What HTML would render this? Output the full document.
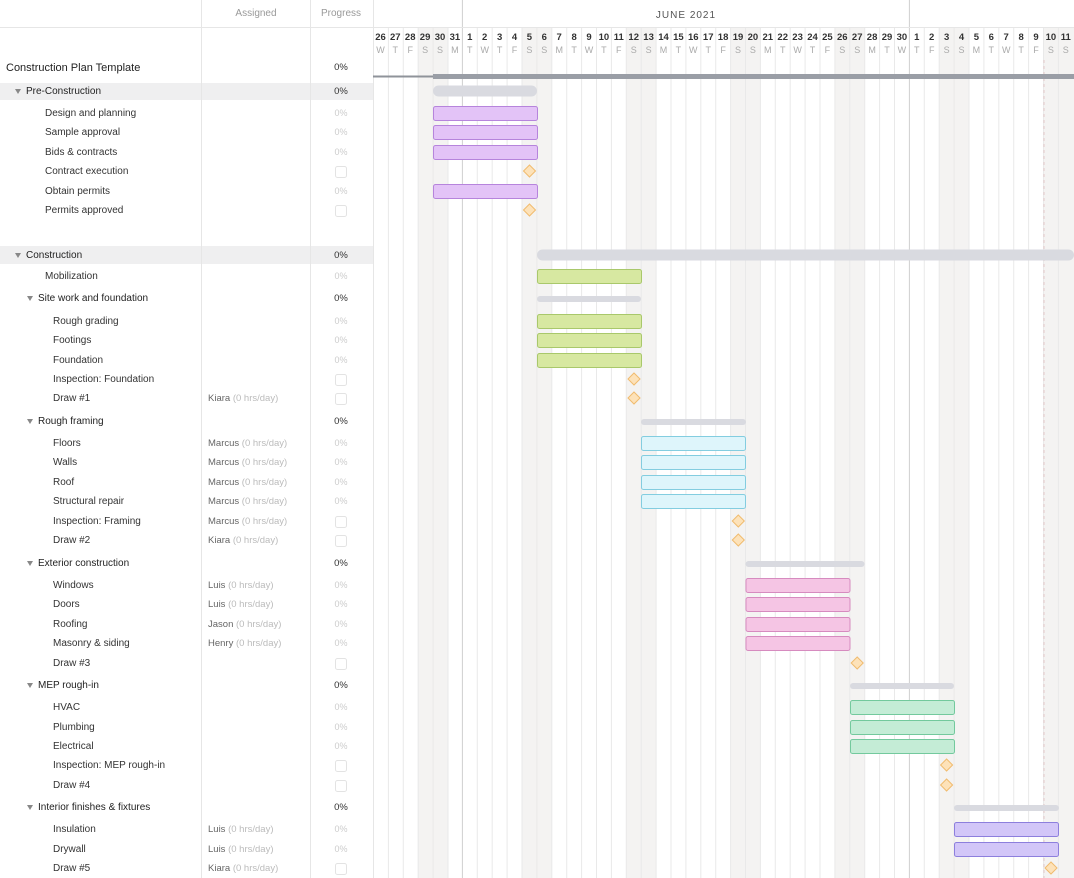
<!DOCTYPE html>
<html><head><meta charset="utf-8"><style>
html,body{margin:0;padding:0;background:#fff;}
svg{display:block;font-family:"Liberation Sans",sans-serif;}
.t{font-size:10px;fill:#333;}
.g{font-size:10px;fill:#222;}
.h{font-size:10px;fill:#999;}
.p{font-size:9px;fill:#ccc;text-anchor:middle;}
.pg{font-size:9.5px;fill:#333;text-anchor:middle;}
.a{font-size:9.5px;fill:#666;}
.a tspan{fill:#bbb;}
.dn{font-size:9.5px;fill:#333;font-weight:bold;text-anchor:middle;}
.dw{font-size:9px;fill:#aaa;text-anchor:middle;}
.tri{fill:#888;}
.pu{fill:#e3c3f7;stroke:#b684dc;}
.gr{fill:#d7e8a1;stroke:#a9c86b;}
.bl{fill:#def5fb;stroke:#83cde0;}
.pk{fill:#f5c5e4;stroke:#d68bbf;}
.mi{fill:#c4ecd6;stroke:#73c99d;}
.la{fill:#d2c6f8;stroke:#8d7fdd;}
.dm{fill:#fde2b9;stroke:#f0bb6e;}
.sm{fill:#d9dae0;}
.cb{fill:#fff;stroke:#e3e3e3;}
</style></head><body>
<svg width="1074" height="878" viewBox="0 0 1074 878" xmlns="http://www.w3.org/2000/svg">
<!-- group bands -->
<rect x="0" y="83" width="373" height="17" fill="#efeff0"/>
<rect x="0" y="246" width="373" height="18" fill="#efeff0"/>
<!-- weekend shading -->
<g fill="#f4f3f2">
<rect x="417.7" y="27" width="29.8" height="851"/>
<rect x="522" y="27" width="29.8" height="851"/>
<rect x="626.3" y="27" width="29.8" height="851"/>
<rect x="730.6" y="27" width="29.8" height="851"/>
<rect x="834.9" y="27" width="29.8" height="851"/>
<rect x="939.2" y="27" width="29.8" height="851"/>
<rect x="1043.5" y="27" width="30.5" height="851"/>
</g>
<!-- grid lines -->
<g stroke="#e9e9e9" stroke-width="1">
<line x1="388.4" y1="27" x2="388.4" y2="878"/><line x1="403.3" y1="27" x2="403.3" y2="878"/><line x1="418.2" y1="27" x2="418.2" y2="878"/><line x1="433.1" y1="27" x2="433.1" y2="878"/><line x1="448" y1="27" x2="448" y2="878"/>
<line x1="477.3" y1="27" x2="477.3" y2="878"/><line x1="492.2" y1="27" x2="492.2" y2="878"/><line x1="507.1" y1="27" x2="507.1" y2="878"/><line x1="522" y1="27" x2="522" y2="878"/><line x1="536.9" y1="27" x2="536.9" y2="878"/><line x1="551.8" y1="27" x2="551.8" y2="878"/><line x1="566.7" y1="27" x2="566.7" y2="878"/><line x1="581.6" y1="27" x2="581.6" y2="878"/><line x1="596.5" y1="27" x2="596.5" y2="878"/><line x1="611.4" y1="27" x2="611.4" y2="878"/><line x1="626.3" y1="27" x2="626.3" y2="878"/><line x1="641.2" y1="27" x2="641.2" y2="878"/><line x1="656.1" y1="27" x2="656.1" y2="878"/><line x1="671" y1="27" x2="671" y2="878"/><line x1="685.9" y1="27" x2="685.9" y2="878"/><line x1="700.8" y1="27" x2="700.8" y2="878"/><line x1="715.7" y1="27" x2="715.7" y2="878"/><line x1="730.6" y1="27" x2="730.6" y2="878"/><line x1="745.5" y1="27" x2="745.5" y2="878"/><line x1="760.4" y1="27" x2="760.4" y2="878"/><line x1="775.3" y1="27" x2="775.3" y2="878"/><line x1="790.2" y1="27" x2="790.2" y2="878"/><line x1="805.1" y1="27" x2="805.1" y2="878"/><line x1="820" y1="27" x2="820" y2="878"/><line x1="834.9" y1="27" x2="834.9" y2="878"/><line x1="849.8" y1="27" x2="849.8" y2="878"/><line x1="864.7" y1="27" x2="864.7" y2="878"/><line x1="879.6" y1="27" x2="879.6" y2="878"/><line x1="894.5" y1="27" x2="894.5" y2="878"/>
<line x1="924.3" y1="27" x2="924.3" y2="878"/><line x1="939.2" y1="27" x2="939.2" y2="878"/><line x1="954.1" y1="27" x2="954.1" y2="878"/><line x1="969" y1="27" x2="969" y2="878"/><line x1="983.9" y1="27" x2="983.9" y2="878"/><line x1="998.8" y1="27" x2="998.8" y2="878"/><line x1="1013.7" y1="27" x2="1013.7" y2="878"/><line x1="1028.6" y1="27" x2="1028.6" y2="878"/><line x1="1043.5" y1="27" x2="1043.5" y2="878"/><line x1="1058.4" y1="27" x2="1058.4" y2="878"/>
</g>
<line x1="1044" y1="60" x2="1044" y2="878" stroke="#e3c9c9" stroke-dasharray="3,3"/>
<g stroke="#cfcfcf"><line x1="462.4" y1="0" x2="462.4" y2="878"/><line x1="909.4" y1="0" x2="909.4" y2="878"/></g>
<!-- panel separators -->
<g stroke="#e6e6e6"><line x1="201.5" y1="0" x2="201.5" y2="878"/><line x1="310.5" y1="0" x2="310.5" y2="878"/><line x1="373.5" y1="0" x2="373.5" y2="878"/><line x1="0" y1="27.5" x2="1074" y2="27.5"/></g>
<!-- header -->
<text class="h" x="256" y="16" text-anchor="middle">Assigned</text>
<text class="h" x="341" y="16" text-anchor="middle">Progress</text>
<text x="686" y="18" text-anchor="middle" style="font-size:10px;fill:#555;letter-spacing:1px">JUNE 2021</text>
<g>
<text class="dn" x="380.5" y="40">26</text><text class="dn" x="395.3" y="40">27</text><text class="dn" x="410.2" y="40">28</text><text class="dn" x="425.1" y="40">29</text><text class="dn" x="440" y="40">30</text><text class="dn" x="454.9" y="40">31</text><text class="dn" x="469.8" y="40">1</text><text class="dn" x="484.7" y="40">2</text><text class="dn" x="499.6" y="40">3</text><text class="dn" x="514.5" y="40">4</text><text class="dn" x="529.4" y="40">5</text><text class="dn" x="544.3" y="40">6</text><text class="dn" x="559.2" y="40">7</text><text class="dn" x="574.1" y="40">8</text><text class="dn" x="589" y="40">9</text><text class="dn" x="603.9" y="40">10</text><text class="dn" x="618.8" y="40">11</text><text class="dn" x="633.7" y="40">12</text><text class="dn" x="648.6" y="40">13</text><text class="dn" x="663.5" y="40">14</text><text class="dn" x="678.4" y="40">15</text><text class="dn" x="693.3" y="40">16</text><text class="dn" x="708.2" y="40">17</text><text class="dn" x="723.1" y="40">18</text><text class="dn" x="738" y="40">19</text><text class="dn" x="752.9" y="40">20</text><text class="dn" x="767.8" y="40">21</text><text class="dn" x="782.7" y="40">22</text><text class="dn" x="797.6" y="40">23</text><text class="dn" x="812.5" y="40">24</text><text class="dn" x="827.4" y="40">25</text><text class="dn" x="842.3" y="40">26</text><text class="dn" x="857.2" y="40">27</text><text class="dn" x="872.1" y="40">28</text><text class="dn" x="887" y="40">29</text><text class="dn" x="901.9" y="40">30</text><text class="dn" x="916.8" y="40">1</text><text class="dn" x="931.7" y="40">2</text><text class="dn" x="946.6" y="40">3</text><text class="dn" x="961.5" y="40">4</text><text class="dn" x="976.4" y="40">5</text><text class="dn" x="991.3" y="40">6</text><text class="dn" x="1006.2" y="40">7</text><text class="dn" x="1021.1" y="40">8</text><text class="dn" x="1036" y="40">9</text><text class="dn" x="1050.9" y="40">10</text><text class="dn" x="1065.8" y="40">11</text>
<text class="dw" x="380.5" y="53">W</text><text class="dw" x="395.3" y="53">T</text><text class="dw" x="410.2" y="53">F</text><text class="dw" x="425.1" y="53">S</text><text class="dw" x="440" y="53">S</text><text class="dw" x="454.9" y="53">M</text><text class="dw" x="469.8" y="53">T</text><text class="dw" x="484.7" y="53">W</text><text class="dw" x="499.6" y="53">T</text><text class="dw" x="514.5" y="53">F</text><text class="dw" x="529.4" y="53">S</text><text class="dw" x="544.3" y="53">S</text><text class="dw" x="559.2" y="53">M</text><text class="dw" x="574.1" y="53">T</text><text class="dw" x="589" y="53">W</text><text class="dw" x="603.9" y="53">T</text><text class="dw" x="618.8" y="53">F</text><text class="dw" x="633.7" y="53">S</text><text class="dw" x="648.6" y="53">S</text><text class="dw" x="663.5" y="53">M</text><text class="dw" x="678.4" y="53">T</text><text class="dw" x="693.3" y="53">W</text><text class="dw" x="708.2" y="53">T</text><text class="dw" x="723.1" y="53">F</text><text class="dw" x="738" y="53">S</text><text class="dw" x="752.9" y="53">S</text><text class="dw" x="767.8" y="53">M</text><text class="dw" x="782.7" y="53">T</text><text class="dw" x="797.6" y="53">W</text><text class="dw" x="812.5" y="53">T</text><text class="dw" x="827.4" y="53">F</text><text class="dw" x="842.3" y="53">S</text><text class="dw" x="857.2" y="53">S</text><text class="dw" x="872.1" y="53">M</text><text class="dw" x="887" y="53">T</text><text class="dw" x="901.9" y="53">W</text><text class="dw" x="916.8" y="53">T</text><text class="dw" x="931.7" y="53">F</text><text class="dw" x="946.6" y="53">S</text><text class="dw" x="961.5" y="53">S</text><text class="dw" x="976.4" y="53">M</text><text class="dw" x="991.3" y="53">T</text><text class="dw" x="1006.2" y="53">W</text><text class="dw" x="1021.1" y="53">T</text><text class="dw" x="1036" y="53">F</text><text class="dw" x="1050.9" y="53">S</text><text class="dw" x="1065.8" y="53">S</text>
</g>
<!-- project bar -->
<rect x="373" y="75.5" width="60" height="2" fill="#8f939a"/>
<rect x="433" y="74" width="641" height="5" fill="#9a9ea6"/>
<!-- summary bars -->
<rect class="sm" x="433" y="85.5" width="104" height="11" rx="5.5"/>
<rect class="sm" x="537" y="249.5" width="537" height="11" rx="5.5"/>
<rect class="sm" x="537" y="296" width="104" height="6" rx="3"/>
<rect class="sm" x="641" y="419" width="105" height="6" rx="3"/>
<rect class="sm" x="745.5" y="561" width="119" height="6" rx="3"/>
<rect class="sm" x="850" y="683" width="104" height="6" rx="3"/>
<rect class="sm" x="954" y="805" width="105" height="6" rx="3"/>
<!-- task bars -->
<g stroke-width="1">
<rect class="pu" x="433.5" y="106.5" width="104" height="14" rx="2"/>
<rect class="pu" x="433.5" y="125.5" width="104" height="14" rx="2"/>
<rect class="pu" x="433.5" y="145.5" width="104" height="14" rx="2"/>
<rect class="pu" x="433.5" y="184.5" width="104" height="14" rx="2"/>
<rect class="gr" x="537.5" y="269.5" width="104" height="14" rx="2"/>
<rect class="gr" x="537.5" y="314.5" width="104" height="14" rx="2"/>
<rect class="gr" x="537.5" y="333.5" width="104" height="14" rx="2"/>
<rect class="gr" x="537.5" y="353.5" width="104" height="14" rx="2"/>
<rect class="bl" x="641.5" y="436.5" width="104" height="14" rx="2"/>
<rect class="bl" x="641.5" y="455.5" width="104" height="14" rx="2"/>
<rect class="bl" x="641.5" y="475.5" width="104" height="14" rx="2"/>
<rect class="bl" x="641.5" y="494.5" width="104" height="14" rx="2"/>
<rect class="pk" x="746" y="578.5" width="104" height="14" rx="2"/>
<rect class="pk" x="746" y="597.5" width="104" height="14" rx="2"/>
<rect class="pk" x="746" y="617.5" width="104" height="14" rx="2"/>
<rect class="pk" x="746" y="636.5" width="104" height="14" rx="2"/>
<rect class="mi" x="850.5" y="700.5" width="104" height="14" rx="2"/>
<rect class="mi" x="850.5" y="720.5" width="104" height="14" rx="2"/>
<rect class="mi" x="850.5" y="739.5" width="104" height="14" rx="2"/>
<rect class="la" x="954.5" y="822.5" width="104" height="14" rx="2"/>
<rect class="la" x="954.5" y="842.5" width="104" height="14" rx="2"/>
<polygon class="dm" points="529.5,165 535.5,171 529.5,177 523.5,171"/>
<polygon class="dm" points="529.5,204 535.5,210 529.5,216 523.5,210"/>
<polygon class="dm" points="634,373 640,379 634,385 628,379"/>
<polygon class="dm" points="634,392 640,398 634,404 628,398"/>
<polygon class="dm" points="738.3,515 744.3,521 738.3,527 732.3,521"/>
<polygon class="dm" points="738.3,534 744.3,540 738.3,546 732.3,540"/>
<polygon class="dm" points="857.2,657 863.2,663 857.2,669 851.2,663"/>
<polygon class="dm" points="946.6,759 952.6,765 946.6,771 940.6,765"/>
<polygon class="dm" points="946.6,779 952.6,785 946.6,791 940.6,785"/>
<polygon class="dm" points="1051,862 1057,868 1051,874 1045,868"/>
</g>
<!-- left panel text -->
<text x="6" y="71" style="font-size:11px;fill:#222">Construction Plan Template</text>
<text class="pg" x="341" y="70">0%</text>
<g class="tri">
<polygon points="15,89 21,89 18,94"/><polygon points="15,253 21,253 18,258"/>
<polygon points="27,296 33,296 30,301"/><polygon points="27,419 33,419 30,424"/><polygon points="27,561 33,561 30,566"/><polygon points="27,683 33,683 30,688"/><polygon points="27,805 33,805 30,810"/>
</g>
<text class="g" x="26" y="94">Pre-Construction</text><text class="pg" x="341" y="94">0%</text>
<text class="t" x="45" y="116">Design and planning</text><text class="p" x="341" y="116">0%</text>
<text class="t" x="45" y="135">Sample approval</text><text class="p" x="341" y="135">0%</text>
<text class="t" x="45" y="155">Bids &amp; contracts</text><text class="p" x="341" y="155">0%</text>
<text class="t" x="45" y="174">Contract execution</text><rect class="cb" x="335.5" y="166.5" width="11" height="11" rx="2"/>
<text class="t" x="45" y="194">Obtain permits</text><text class="p" x="341" y="194">0%</text>
<text class="t" x="45" y="213">Permits approved</text><rect class="cb" x="335.5" y="205.5" width="11" height="11" rx="2"/>
<text class="g" x="26" y="258">Construction</text><text class="pg" x="341" y="258">0%</text>
<text class="t" x="45" y="279">Mobilization</text><text class="p" x="341" y="279">0%</text>
<text class="g" x="38" y="301">Site work and foundation</text><text class="pg" x="341" y="301">0%</text>
<text class="t" x="53" y="324">Rough grading</text><text class="p" x="341" y="324">0%</text>
<text class="t" x="53" y="343">Footings</text><text class="p" x="341" y="343">0%</text>
<text class="t" x="53" y="363">Foundation</text><text class="p" x="341" y="363">0%</text>
<text class="t" x="53" y="382">Inspection: Foundation</text><rect class="cb" x="335.5" y="374.5" width="11" height="11" rx="2"/>
<text class="t" x="53" y="401">Draw #1</text><text class="a" x="208" y="401">Kiara <tspan>(0 hrs/day)</tspan></text><rect class="cb" x="335.5" y="393.5" width="11" height="11" rx="2"/>
<text class="g" x="38" y="424">Rough framing</text><text class="pg" x="341" y="424">0%</text>
<text class="t" x="53" y="446">Floors</text><text class="a" x="208" y="446">Marcus <tspan>(0 hrs/day)</tspan></text><text class="p" x="341" y="446">0%</text>
<text class="t" x="53" y="465">Walls</text><text class="a" x="208" y="465">Marcus <tspan>(0 hrs/day)</tspan></text><text class="p" x="341" y="465">0%</text>
<text class="t" x="53" y="485">Roof</text><text class="a" x="208" y="485">Marcus <tspan>(0 hrs/day)</tspan></text><text class="p" x="341" y="485">0%</text>
<text class="t" x="53" y="504">Structural repair</text><text class="a" x="208" y="504">Marcus <tspan>(0 hrs/day)</tspan></text><text class="p" x="341" y="504">0%</text>
<text class="t" x="53" y="524">Inspection: Framing</text><text class="a" x="208" y="524">Marcus <tspan>(0 hrs/day)</tspan></text><rect class="cb" x="335.5" y="516.5" width="11" height="11" rx="2"/>
<text class="t" x="53" y="543">Draw #2</text><text class="a" x="208" y="543">Kiara <tspan>(0 hrs/day)</tspan></text><rect class="cb" x="335.5" y="535.5" width="11" height="11" rx="2"/>
<text class="g" x="38" y="566">Exterior construction</text><text class="pg" x="341" y="566">0%</text>
<text class="t" x="53" y="588">Windows</text><text class="a" x="208" y="588">Luis <tspan>(0 hrs/day)</tspan></text><text class="p" x="341" y="588">0%</text>
<text class="t" x="53" y="607">Doors</text><text class="a" x="208" y="607">Luis <tspan>(0 hrs/day)</tspan></text><text class="p" x="341" y="607">0%</text>
<text class="t" x="53" y="627">Roofing</text><text class="a" x="208" y="627">Jason <tspan>(0 hrs/day)</tspan></text><text class="p" x="341" y="627">0%</text>
<text class="t" x="53" y="646">Masonry &amp; siding</text><text class="a" x="208" y="646">Henry <tspan>(0 hrs/day)</tspan></text><text class="p" x="341" y="646">0%</text>
<text class="t" x="53" y="666">Draw #3</text><rect class="cb" x="335.5" y="658.5" width="11" height="11" rx="2"/>
<text class="g" x="38" y="688">MEP rough-in</text><text class="pg" x="341" y="688">0%</text>
<text class="t" x="53" y="710">HVAC</text><text class="p" x="341" y="710">0%</text>
<text class="t" x="53" y="730">Plumbing</text><text class="p" x="341" y="730">0%</text>
<text class="t" x="53" y="749">Electrical</text><text class="p" x="341" y="749">0%</text>
<text class="t" x="53" y="768">Inspection: MEP rough-in</text><rect class="cb" x="335.5" y="760.5" width="11" height="11" rx="2"/>
<text class="t" x="53" y="788">Draw #4</text><rect class="cb" x="335.5" y="780.5" width="11" height="11" rx="2"/>
<text class="g" x="38" y="810">Interior finishes &amp; fixtures</text><text class="pg" x="341" y="810">0%</text>
<text class="t" x="53" y="832">Insulation</text><text class="a" x="208" y="832">Luis <tspan>(0 hrs/day)</tspan></text><text class="p" x="341" y="832">0%</text>
<text class="t" x="53" y="852">Drywall</text><text class="a" x="208" y="852">Luis <tspan>(0 hrs/day)</tspan></text><text class="p" x="341" y="852">0%</text>
<text class="t" x="53" y="871">Draw #5</text><text class="a" x="208" y="871">Kiara <tspan>(0 hrs/day)</tspan></text><rect class="cb" x="335.5" y="863.5" width="11" height="11" rx="2"/>
</svg>
</body></html>
